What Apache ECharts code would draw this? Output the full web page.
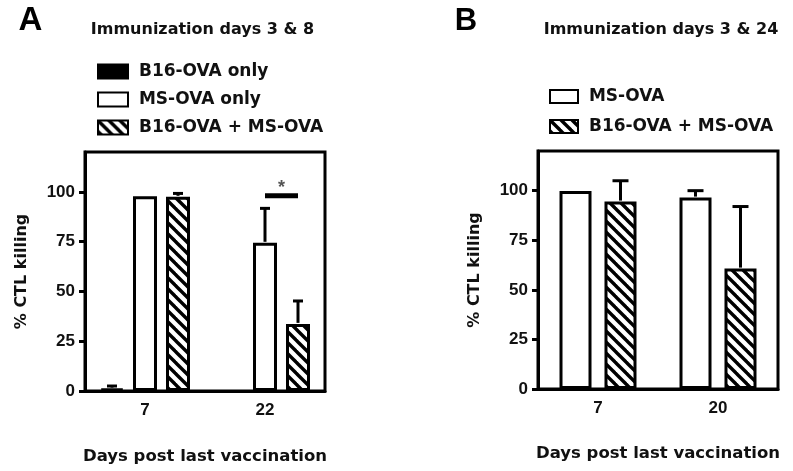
<!DOCTYPE html>
<html>
<head>
<meta charset="utf-8">
<script src="https://cdn.jsdelivr.net/npm/echarts@6/dist/echarts.min.js"></script>
<style>
html,body{margin:0;padding:0;background:#fff;}
#chart{width:793px;height:471px;}
</style>
</head>
<body>
<div id="chart"></div>
<script>
// ---------- data ----------
const catsA = ['7', '22'];
const catsB = ['7', '20'];
const yTicks = [0, 25, 50, 75, 100];

// Panel A (Immunization days 3 & 8)
const aB16Only = [1.2, '-'];
const aB16OnlyErrTop = [2.5, null];
const aMSOnly = [97.8, 74.4];
const aMSOnlyErrTop = [null, 91.7];
const aCombo = [97.5, 33.7];
const aComboErrTop = [99.2, 45.2];
const aSigLevel = 98;      // significance bracket at day 22
const aSigText = '*';

// Panel B (Immunization days 3 & 24)
const bMS = [99.8, 96.5];
const bMSErrTop = [null, 100];
const bCombo = [94.5, 60.7];
const bComboErrTop = [105, 92];

// ---------- styles ----------
const FONT_T = 'DejaVu Sans';
const FONT_N = 'Liberation Sans';
const BW_A = 24, GAP_A = 0.375;
const BW_B = 32, GAP_B = 0.406;

function hatch() {
  const P = 11;
  const c = document.createElement('canvas');
  c.width = P; c.height = P;
  const g = c.getContext('2d');
  g.fillStyle = '#fff'; g.fillRect(0, 0, P, P);
  g.strokeStyle = '#000'; g.lineWidth = 3.4;
  [-P, 0, P].forEach(k => {
    g.beginPath(); g.moveTo(-3, -3 + k); g.lineTo(P + 3, P + 3 + k); g.stroke();
  });
  return { image: c, repeat: 'repeat' };
}
const HATCH = hatch();

function slotOffset(slot, n, w, gap) {
  return (slot - (n - 1) / 2) * w * (1 + gap);
}
function errRender(n, w, gap, capW) {
  return function (params, api) {
    const ci = api.value(0), v = api.value(1), e = api.value(2), slot = api.value(3);
    const p0 = api.coord([ci, v]);
    const p1 = api.coord([ci, e]);
    const x = p0[0] + slotOffset(slot, n, w, gap);
    const st = { stroke: '#000', lineWidth: 3 };
    return {
      type: 'group', children: [
        { type: 'line', shape: { x1: x, y1: p0[1] - 1, x2: x, y2: p1[1] }, style: st },
        { type: 'line', shape: { x1: x - capW / 2, y1: p1[1], x2: x + capW / 2, y2: p1[1] }, style: st }
      ]
    };
  };
}
function errData(vals, tops, slot) {
  const out = [];
  vals.forEach((v, i) => {
    if (tops[i] != null && v !== '-') out.push([i, v, tops[i], slot]);
  });
  return out;
}

function barSeries(name, data, color, xi, w, gap) {
  return {
    type: 'bar', name, data, xAxisIndex: xi, yAxisIndex: xi,
    barWidth: w, barGap: (gap * 100) + '%',
    itemStyle: { color, borderColor: '#000', borderWidth: 3 },
    emphasis: { disabled: true }, silent: true
  };
}

const axisLbl = { fontFamily: FONT_N, fontWeight: 'bold', fontSize: 17, color: '#111' };
const axisName = { fontFamily: FONT_T, fontWeight: 'bold', fontSize: 16, color: '#111' };

function xAxis(gi, cats, gap) {
  return {
    type: 'category', gridIndex: gi, data: cats,
    axisLine: { lineStyle: { color: '#000', width: 3 } },
    axisTick: { alignWithLabel: true, length: 6, lineStyle: { color: '#000', width: 3 } },
    axisLabel: Object.assign({ margin: 11 }, axisLbl),
    name: 'Days post last vaccination', nameLocation: 'middle', nameGap: gap,
    nameTextStyle: Object.assign({}, axisName, { fontSize: 16.5 })
  };
}
function yAxis(gi) {
  return {
    type: 'value', gridIndex: gi, min: 0, max: 120, interval: 25,
    splitLine: { show: false },
    axisLine: { show: true, lineStyle: { color: '#000', width: 3 } },
    axisTick: { show: true, length: 6, customValues: yTicks, lineStyle: { color: '#000', width: 3 } },
    axisLabel: Object.assign({ margin: 10, customValues: yTicks }, axisLbl),
    name: '% CTL killing', nameLocation: 'middle', nameRotate: 90, nameGap: 55,
    nameTextStyle: axisName
  };
}

const legendText = { fontFamily: FONT_T, fontWeight: 'bold', fontSize: 17, color: '#111' };

const chart = echarts.init(document.getElementById('chart'), null, { renderer: 'canvas' });
chart.setOption({
  animation: false,
  backgroundColor: '#fff',
  grid: [
    { left: 85, top: 152, width: 240, height: 239, show: true, borderColor: '#000', borderWidth: 3, backgroundColor: 'transparent' },
    { left: 538, top: 151, width: 240, height: 238, show: true, borderColor: '#000', borderWidth: 3, backgroundColor: 'transparent' }
  ],
  legend: [
    {
      left: 97, top: 63, padding: 0, orient: 'vertical', itemWidth: 30, itemHeight: 14, itemGap: 11,
      icon: 'rect', selectedMode: false, textStyle: legendText, formatter: ' {name}',
      data: ['B16-OVA only', 'MS-OVA only', 'B16-OVA + MS-OVA']
    },
    {
      left: 549, top: 88, padding: 0, orient: 'vertical', itemWidth: 28, itemHeight: 13, itemGap: 13,
      icon: 'rect', selectedMode: false, textStyle: legendText, formatter: ' {name}',
      data: ['MS-OVA', 'B16-OVA + MS-OVA']
    }
  ],
  xAxis: [xAxis(0, catsA, 57), xAxis(1, catsB, 56)],
  yAxis: [yAxis(0), yAxis(1)],
  graphic: [
    { type: 'text', x: 30.5, y: 21, style: { text: 'A', fontFamily: FONT_N, fontWeight: 'bold', fontSize: 33, fill: '#000', align: 'center', verticalAlign: 'middle' } },
    { type: 'text', x: 466, y: 21, style: { text: 'B', fontFamily: FONT_N, fontWeight: 'bold', fontSize: 31, fill: '#000', align: 'center', verticalAlign: 'middle' } },
    { type: 'text', x: 202.5, y: 30, style: { text: 'Immunization days 3 & 8', fontFamily: FONT_T, fontWeight: 'bold', fontSize: 16, fill: '#111', align: 'center', verticalAlign: 'middle' } },
    { type: 'text', x: 661, y: 30, style: { text: 'Immunization days 3 & 24', fontFamily: FONT_T, fontWeight: 'bold', fontSize: 16, fill: '#111', align: 'center', verticalAlign: 'middle' } }
  ],
  series: [
    barSeries('B16-OVA only', aB16Only, '#000', 0, BW_A, GAP_A),
    barSeries('MS-OVA only', aMSOnly, '#fff', 0, BW_A, GAP_A),
    barSeries('B16-OVA + MS-OVA', aCombo, HATCH, 0, BW_A, GAP_A),
    barSeries('MS-OVA', bMS, '#fff', 1, BW_B, GAP_B),
    barSeries('B16-OVA + MS-OVA', bCombo, HATCH, 1, BW_B, GAP_B),
    {
      type: 'custom', xAxisIndex: 0, yAxisIndex: 0, silent: true, z: 5,
      renderItem: errRender(3, BW_A, GAP_A, 10),
      data: [].concat(errData(aB16Only, aB16OnlyErrTop, 0), errData(aMSOnly, aMSOnlyErrTop, 1), errData(aCombo, aComboErrTop, 2))
    },
    {
      type: 'custom', xAxisIndex: 1, yAxisIndex: 1, silent: true, z: 5,
      renderItem: errRender(2, BW_B, GAP_B, 16),
      data: [].concat(errData(bMS, bMSErrTop, 0), errData(bCombo, bComboErrTop, 1))
    },
    {
      type: 'custom', xAxisIndex: 0, yAxisIndex: 0, silent: true, z: 5,
      renderItem: function (params, api) {
        const ci = api.value(0), lvl = api.value(1), s0 = api.value(2), s1 = api.value(3);
        const p = api.coord([ci, lvl]);
        const x0 = p[0] + slotOffset(s0, 3, BW_A, GAP_A);
        const x1 = p[0] + slotOffset(s1, 3, BW_A, GAP_A);
        return {
          type: 'group', children: [
            { type: 'rect', shape: { x: x0, y: p[1] - 2.5, width: x1 - x0, height: 5 }, style: { fill: '#000' } },
            { type: 'text', x: (x0 + x1) / 2, y: p[1] - 8, style: { text: aSigText, fontFamily: FONT_N, fontWeight: 'bold', fontSize: 18, fill: '#555', align: 'center', verticalAlign: 'middle' } }
          ]
        };
      },
      data: [[1, aSigLevel, 1, 2]]
    }
  ]
});
</script>
</body>
</html>
